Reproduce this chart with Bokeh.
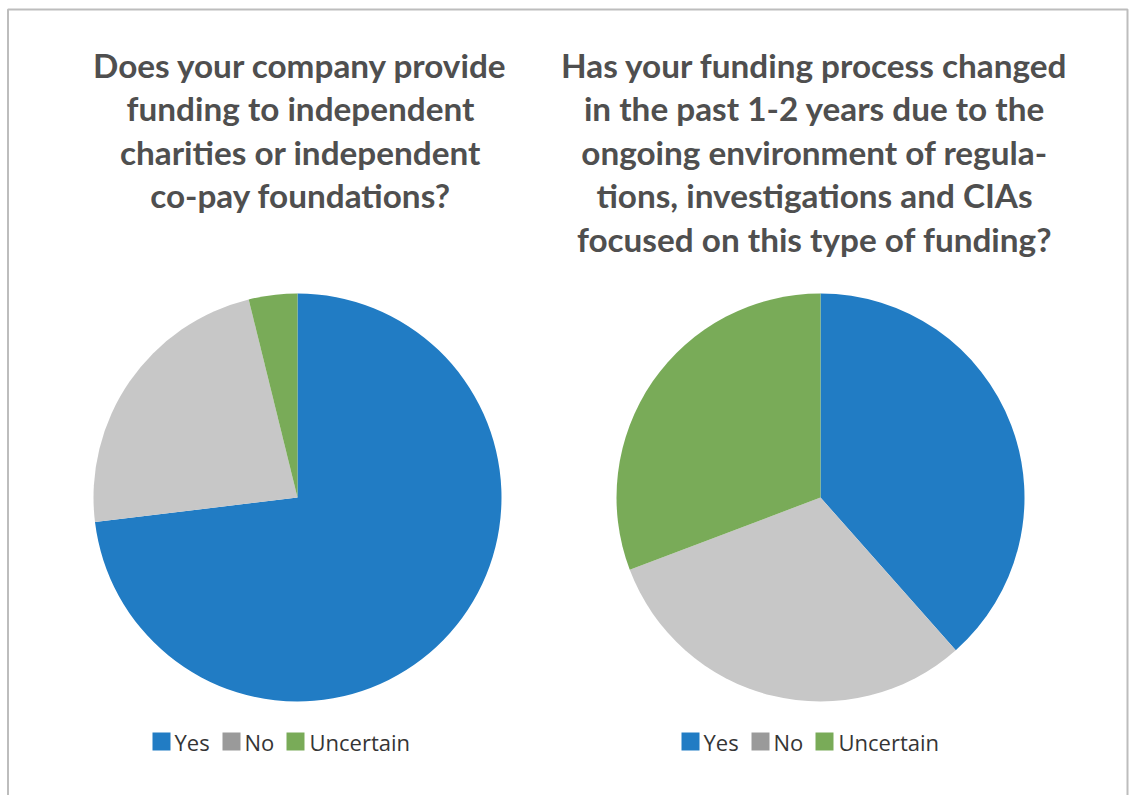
import math
from bokeh.plotting import figure
from bokeh.models import Range1d, ColumnDataSource
from bokeh.core.properties import value
from bokeh.embed import file_html
from bokeh.resources import INLINE

# ---- data ----
categories = ["Yes", "No", "Uncertain"]
pie1_values = [19, 6, 1]          # ~73.1%, 23.1%, 3.8%
pie2_values = [5, 4, 4]           # ~38.5%, 30.8%, 30.8%
slice_colors = ["#217cc4", "#c7c7c7", "#79ab58"]
legend_colors = ["#217cc4", "#9a9a9a", "#79ab58"]
title1_lines = ["Does your company provide", "funding to independent",
                "charities or independent", "co-pay foundations?"]
title2_lines = ["Has your funding process changed", "in the past 1-2 years due to the",
                "ongoing environment of regula-", "tions, investigations and CIAs",
                "focused on this type of funding?"]

# ---- layout ----
W, H = 1129, 795
p = figure(width=W, height=H, output_backend="svg", toolbar_location=None,
           x_range=Range1d(0, W), y_range=Range1d(0, H), min_border=0)
p.axis.visible = False
p.grid.visible = False
p.outline_line_color = None
p.background_fill_color = "white"
p.border_fill_color = "white"

def sy(y):  # screen y -> data y
    return H - y

def sx(x):
    return x

# border (left, top, right)
p.line([sx(7.5), sx(7.5), sx(1127), sx(1127)], [0, sy(9), sy(9), 0],
       line_color="#bdbdbd", line_width=2)

R = 204
centers = [(297, 497), (820, 497)]
title_cx = [300, 814]
titles = [title1_lines, title2_lines]
pies = [pie1_values, pie2_values]
legend_x0 = [152, 681]
sq_offs = [0, 70, 134]
txt_offs = [22, 92, 157]

for (cx, cy), vals, tlines, tcx, lx0 in zip(centers, pies, titles, title_cx, legend_x0):
    total = float(sum(vals))
    cum = [0.0]
    for v in vals:
        cum.append(cum[-1] + v / total)
    starts = [math.pi / 2 - c * 2 * math.pi for c in cum[:-1]]
    ends = [math.pi / 2 - c * 2 * math.pi for c in cum[1:]]
    src = ColumnDataSource(dict(x=[sx(cx)] * len(vals), y=[sy(cy)] * len(vals),
                                start=starts, end=ends, color=slice_colors))
    p.wedge(x="x", y="y", radius=R, radius_units="screen", start_angle="start",
            end_angle="end", direction="clock", fill_color="color", line_color=None,
            source=src)

    # title
    ys = [sy(64 + 43.5 * i) for i in range(len(tlines))]
    p.text(x=[sx(tcx)] * len(tlines), y=ys, text=tlines, text_font=value("Lato"),
           text_font_style="bold", text_font_size="33.3px", text_color="#4f4f4f",
           text_align="center", text_baseline="alphabetic")

    # legend
    lx = [sx(lx0 + o + 9) for o in sq_offs]
    tx = [sx(lx0 + o) for o in txt_offs]
    ly = [sy(741)] * 3
    p.rect(x=lx, y=ly, width=18, height=18, width_units="screen", height_units="screen",
           fill_color=legend_colors, line_color=None)
    p.text(x=tx, y=ly, text=categories, text_font=value("Open Sans"),
           text_font_size="22px", text_color="#353535", text_align="left",
           text_baseline="middle")

open("out.html", "w").write(file_html(p, INLINE))
